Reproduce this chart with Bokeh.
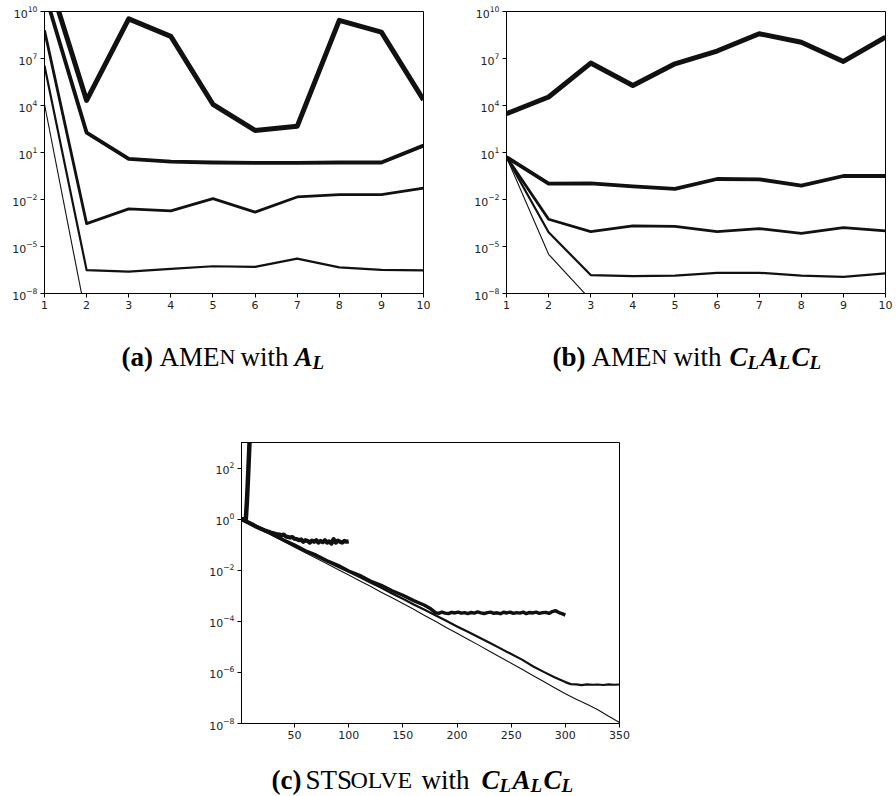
from bokeh.plotting import figure
from bokeh.models import Range1d, FixedTicker, Label, LogTickFormatter
from bokeh.layouts import column, row
from bokeh.embed import file_html
from bokeh.resources import INLINE

# ---------------- data ----------------
it10 = [1, 2, 3, 4, 5, 6, 7, 8, 9, 10]

# (a) AMEn with A_L  (thick -> thin)
a_s1 = [8e12, 2.1e4, 3.4e9, 2.6e8, 1.2e4, 257, 468, 2.7e9, 4.8e8, 2.3e4]
a_s2 = [1.8e11, 186, 3.9, 2.6, 2.3, 2.2, 2.2, 2.3, 2.3, 27.5]
a_s3 = [6.2e8, 2.9e-4, 2.5e-3, 1.9e-3, 0.0115, 1.55e-3, 0.0145, 0.0204, 0.0204, 0.0525]
a_s4 = [3.5e6, 3.1e-7, 2.5e-7, 3.7e-7, 5.5e-7, 5.0e-7, 1.7e-6, 4.6e-7, 3.2e-7, 2.95e-7]
a_s5 = [1.2e4, 2.2e-10]

# (b) AMEn with C_L A_L C_L
b_s1 = [3.0e3, 3.5e4, 5.1e6, 1.9e5, 4.6e6, 3.0e7, 3.8e8, 1.1e8, 6.5e6, 2.3e8]
b_s2 = [5.1, 0.102, 0.107, 0.069, 0.047, 0.204, 0.195, 0.076, 0.316, 0.316]
b_s3 = [5.1, 5.5e-4, 8.9e-5, 2.1e-4, 1.95e-4, 8.9e-5, 1.4e-4, 6.8e-5, 1.6e-4, 1.0e-4]
b_s4 = [5.1, 8.1e-5, 1.5e-7, 1.3e-7, 1.4e-7, 2.1e-7, 2.1e-7, 1.4e-7, 1.15e-7, 1.9e-7]
b_s5 = [5.1, 3.2e-6, 3.9e-9]

# (c) STSolve with C_L A_L C_L
c0_x = [1, 2, 3, 4, 5, 6, 7, 8, 9, 10]
c0_y = [1.0, 1.0, 1.0, 1.0, 1.0, 5.0, 40.0, 400.0, 4.0e3, 4.0e4]

c1_x = [1, 8, 15, 22, 28, 33, 36, 38, 40, 42, 44, 46, 48, 50, 52, 54, 56, 58,
        60, 62, 64, 66, 68, 70, 72, 74, 76, 78, 80, 82, 84, 86, 88, 90, 92,
        94, 96, 98, 100]
c1_y = [1.0, 0.72, 0.50, 0.37, 0.30, 0.26, 0.25, 0.23, 0.25, 0.21, 0.20, 0.19,
        0.20, 0.17, 0.165, 0.15, 0.16, 0.13, 0.15, 0.14, 0.12, 0.145, 0.13,
        0.15, 0.12, 0.14, 0.125, 0.15, 0.12, 0.135, 0.11, 0.165, 0.12, 0.145,
        0.13, 0.12, 0.14, 0.13, 0.135]

c2_x = [1, 10, 20, 30, 40, 50, 60, 70, 80, 90, 100, 110, 120, 130, 140, 150,
        160, 170, 176,
        180, 183, 186, 189, 192, 195, 198, 201, 204, 207, 210, 213, 216, 219,
        222, 225, 228, 231, 234, 237, 240, 243, 246, 249, 252, 255, 258, 261,
        264, 267, 270, 273, 276, 279, 282, 285, 288, 291, 294, 297, 300]
c2_y = [1.0, 0.646, 0.398, 0.257, 0.151, 0.0977, 0.0575, 0.0389, 0.0234,
        0.0155, 0.00933, 0.00631, 0.0038, 0.00257, 0.00158, 0.00105, 6.46e-4,
        4.27e-4, 3.02e-4,
        2.2e-4, 2.05e-4, 2.3e-4, 2.1e-4, 2.0e-4, 2.25e-4, 2.12e-4, 2.3e-4,
        2.08e-4, 2.18e-4, 2.0e-4, 2.22e-4, 2.1e-4, 2.32e-4, 2.14e-4, 2.02e-4,
        2.2e-4, 2.28e-4, 2.06e-4, 2.16e-4, 1.98e-4, 2.26e-4, 2.12e-4, 2.3e-4,
        2.04e-4, 2.2e-4, 2.1e-4, 2.28e-4, 2.0e-4, 2.22e-4, 2.12e-4, 2.3e-4,
        2.06e-4, 2.18e-4, 2.24e-4, 2.04e-4, 2.4e-4, 2.6e-4, 2.2e-4, 2.0e-4,
        1.75e-4]

c3_x = [1, 10, 20, 30, 40, 50, 60, 70, 80, 90, 100, 110, 120, 130, 140, 150,
        160, 170, 180, 190, 200, 210, 220, 230, 240, 250, 260, 270, 280, 290,
        300, 305, 310, 315, 320, 325, 330, 335, 340, 345, 350]
c3_y = [1.0, 0.631, 0.389, 0.240, 0.148, 0.0912, 0.0562, 0.0355, 0.0219,
        0.0138, 0.00871, 0.00537, 0.00331, 0.00204, 0.00123, 7.59e-4, 4.57e-4,
        2.82e-4, 1.74e-4, 1.05e-4, 6.31e-5, 3.89e-5, 2.40e-5, 1.45e-5, 8.71e-6,
        5.25e-6, 3.16e-6, 1.74e-6, 1.05e-6, 6.46e-7, 4.17e-7, 3.47e-7, 3.39e-7,
        3.2e-7, 3.4e-7, 3.28e-7, 3.36e-7, 3.22e-7, 3.4e-7, 3.28e-7, 3.36e-7]

c4_x = [1, 10, 20, 30, 40, 50, 60, 70, 80, 90, 100, 110, 120, 130, 140, 150,
        160, 170, 180, 190, 200, 210, 220, 230, 240, 250, 260, 270, 280, 290,
        300, 310, 320, 330, 340, 350]
c4_y = [1.0, 0.617, 0.372, 0.219, 0.132, 0.0794, 0.0479, 0.0295, 0.0178,
        0.0107, 0.00646, 0.00389, 0.00234, 0.00138, 8.32e-4, 5.01e-4, 2.95e-4,
        1.70e-4, 1.0e-4, 5.75e-5, 3.39e-5, 2.0e-5, 1.17e-5, 6.76e-6, 3.89e-6,
        2.29e-6, 1.32e-6, 7.59e-7, 4.37e-7, 2.51e-7, 1.45e-7, 8.91e-8, 5.62e-8,
        3.47e-8, 1.91e-8, 1.10e-8]

ab_yticks = [1e-8, 1e-5, 1e-2, 1e1, 1e4, 1e7, 1e10]
ab_xticks = [1, 2, 3, 4, 5, 6, 7, 8, 9, 10]
c_yticks = [1e-8, 1e-6, 1e-4, 1e-2, 1e0, 1e2]
c_xticks = [50, 100, 150, 200, 250, 300, 350]

INK = "#111111"
TICK_FONT = "DejaVu Sans"
SERIF = "Liberation Serif"
CAP = 27   # caption font size (px)
SC = 22    # small-caps size
SUB = 19   # subscript size


def make_fig(width, height, bl, br, bt, bb, xr, yr, xt, yt):
    p = figure(width=width, height=height, y_axis_type="log",
               x_range=Range1d(*xr), y_range=Range1d(*yr),
               output_backend="svg", toolbar_location=None,
               min_border_left=bl, min_border_right=br,
               min_border_top=bt, min_border_bottom=bb)
    p.grid.visible = False
    p.outline_line_color = "black"
    p.outline_line_width = 1
    p.background_fill_color = "white"
    p.border_fill_color = "white"
    p.xaxis.ticker = FixedTicker(ticks=xt, minor_ticks=[])
    p.yaxis.ticker = FixedTicker(ticks=yt, minor_ticks=[])
    p.yaxis.formatter = LogTickFormatter()
    for ax in (p.xaxis[0], p.yaxis[0]):
        ax.axis_line_color = "black"
        ax.major_tick_line_color = "black"
        ax.major_tick_out = 4
        ax.major_tick_in = 0
        ax.minor_tick_out = 0
        ax.minor_tick_in = 0
        ax.major_label_text_font = TICK_FONT
        ax.major_label_text_font_size = "11px"
        ax.major_label_text_color = "#222222"
        ax.major_label_standoff = 3
    return p


def caption_fig(width, height, bl, br, x0):
    # frame spans page x [x0+bl, x0+width-br]; data x == page x
    p = figure(width=width, height=height,
               x_range=Range1d(x0 + bl, x0 + width - br),
               y_range=Range1d(0, height), output_backend="svg",
               toolbar_location=None, x_axis_location=None,
               y_axis_location=None, title=None, min_border_left=bl,
               min_border_right=br, min_border_top=0, min_border_bottom=0)
    p.grid.visible = False
    p.outline_line_color = None
    p.background_fill_color = "white"
    p.border_fill_color = "white"
    return p


def caption(p, pieces):
    for (txt, x, y, size, style) in pieces:
        p.add_layout(Label(x=x, y=y, text=txt,
                           text_font=SERIF, text_font_size=f"{size}px",
                           text_font_style=style, text_color="black",
                           text_align="left", text_baseline="alphabetic"))


# ---------- (a) ----------
pa = make_fig(450, 320, 44, 27, 11, 27, (1, 10), (1e-8, 1e10), ab_xticks, ab_yticks)
for ys, w in ((a_s1, 5), (a_s2, 3.8), (a_s3, 2.8), (a_s4, 2.2), (a_s5, 1.1)):
    pa.line(it10[:len(ys)], ys, line_width=w, line_color=INK, line_join="round")
ca = caption_fig(450, 80, 44, 27, 0)
caption(ca, [
    ("(a)", 121, 44, CAP, "bold"),
    ("AME", 159, 44, CAP, "normal"),
    ("N", 219, 44, SC, "normal"),
    ("with", 240, 44, CAP, "normal"),
    ("A", 294, 44, CAP, "bold italic"),
    ("L", 312, 38, SUB, "bold italic"),
])

# ---------- (b) ----------
pb = make_fig(446, 320, 56, 11, 11, 27, (1, 10), (1e-8, 1e10), ab_xticks, ab_yticks)
for ys, w in ((b_s1, 5), (b_s2, 3.8), (b_s3, 2.8), (b_s4, 2.2), (b_s5, 1.1)):
    pb.line(it10[:len(ys)], ys, line_width=w, line_color=INK, line_join="round")
cb = caption_fig(446, 80, 56, 11, 450)
caption(cb, [
    ("(b)", 552, 44, CAP, "bold"),
    ("AME", 591, 44, CAP, "normal"),
    ("N", 651, 44, SC, "normal"),
    ("with", 673, 44, CAP, "normal"),
    ("C", 729, 44, CAP, "bold italic"),
    ("L", 747, 38, SUB, "bold italic"),
    ("A", 760, 44, CAP, "bold italic"),
    ("L", 778, 38, SUB, "bold italic"),
    ("C", 791, 44, CAP, "bold italic"),
    ("L", 809, 38, SUB, "bold italic"),
])

# ---------- (c) ----------
pc = make_fig(896, 348, 241, 277, 42, 25, (1, 350), (1e-8, 1e3), c_xticks, c_yticks)
for xs, ys, w in ((c0_x, c0_y, 4.5), (c1_x, c1_y, 4.2), (c2_x, c2_y, 3.4),
                  (c3_x, c3_y, 2.2), (c4_x, c4_y, 1.1)):
    pc.line(xs, ys, line_width=w, line_color=INK, line_join="round")
cc = caption_fig(896, 48, 241, 277, 0)
caption(cc, [
    ("(c)", 271, 17, CAP, "bold"),
    ("STS", 305, 17, CAP, "normal"),
    ("OLVE", 350, 17, 24, "normal"),
    ("with", 421, 17, CAP, "normal"),
    ("C", 481, 17, CAP, "bold italic"),
    ("L", 499, 11, SUB, "bold italic"),
    ("A", 512, 17, CAP, "bold italic"),
    ("L", 530, 11, SUB, "bold italic"),
    ("C", 543, 17, CAP, "bold italic"),
    ("L", 561, 11, SUB, "bold italic"),
])

layout = column(row(column(pa, ca), column(pb, cb)), column(pc, cc))
open("out.html", "w").write(file_html(layout, INLINE))
